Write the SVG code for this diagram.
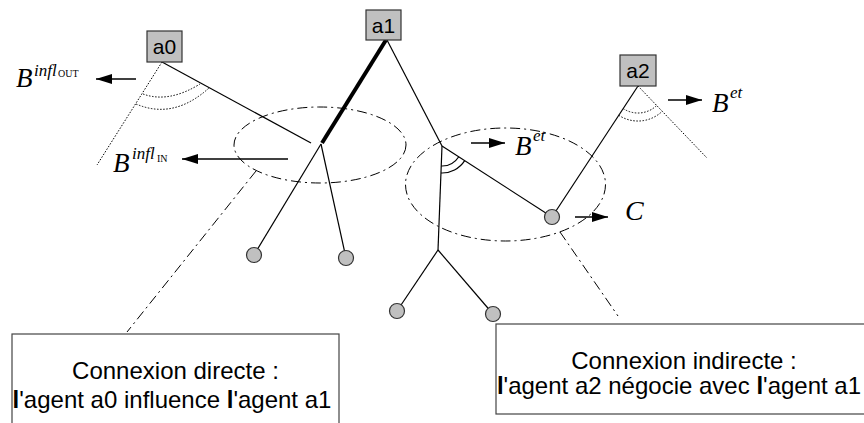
<svg xmlns="http://www.w3.org/2000/svg" width="864" height="423" viewBox="0 0 864 423">
<style>
.ln{stroke:#000;stroke-width:1.2;fill:none}
.dot{stroke:#000;stroke-width:1;fill:none;stroke-dasharray:1.5 1.6}
.dd{stroke:#000;stroke-width:1;fill:none;stroke-dasharray:10 4 2 4}
.ag{fill:#c0c0c0;stroke:#333;stroke-width:1.2}
.agt{font-family:"Liberation Sans",Arial,sans-serif;font-size:21px;text-anchor:middle;fill:#000}
.leaf{fill:#c0c0c0;stroke:#333;stroke-width:1.2}
.arr{stroke:#000;stroke-width:1.3;fill:none;marker-end:url(#ah)}
.math{font-family:"Liberation Serif","Times New Roman",serif;font-style:italic;fill:#000}
.sc{font-family:"Liberation Serif","Times New Roman",serif;font-style:normal;font-size:10px;fill:#000}
.box{fill:#fff;stroke:#444;stroke-width:1.2}
.bt{font-family:"Liberation Sans",Arial,sans-serif;font-size:24px;text-anchor:middle;fill:#000}
</style>
<defs>
<marker id="ah" markerUnits="userSpaceOnUse" markerWidth="16" markerHeight="10" refX="16" refY="5" orient="auto">
<path d="M0,0 L16,5 L0,10 z" fill="#000"/>
</marker>
</defs>
<g id="connectors">
<path class="ln" d="M162,62 L311,143"/>
<path class="dot" d="M162,62 L97,165"/>
<path class="dot" d="M143,94 Q168.5,103.4 200,84"/>
<path class="dot" d="M136,104 Q173.4,120 209,88"/>
<path d="M386,40 L322,143" stroke="#000" stroke-width="4" fill="none"/>
<path class="ln" d="M387,40 L442,146"/>
<path class="ln" d="M442,146 L552,217"/>
<path class="ln" d="M442,146 L438,250"/>
<path class="ln" d="M438,250 L397,311"/>
<path class="ln" d="M438,250 L493,314"/>
<path class="ln" d="M321,144 L254,255"/>
<path class="ln" d="M321,144 L346,258"/>
<path class="ln" d="M638,86 L552,217"/>
<path class="dot" d="M638,86 L707,158"/>
<path class="dot" d="M623.2,108.6 A27,27 0 0 0 656.7,105.5"/>
<path class="dot" d="M618.8,115.3 A35,35 0 0 0 662.2,111.3"/>
<path class="ln" d="M441.2,166 A20,20 0 0 0 458.8,156.8"/>
<path class="ln" d="M441,173 A27,27 0 0 0 464.7,160.6"/>
<ellipse class="dd" cx="320" cy="145" rx="86" ry="38"/>
<ellipse class="dd" cx="505.5" cy="184.5" rx="100" ry="56.5"/>
<path class="dd" d="M256,171 L127,332"/>
<path class="dd" d="M560,232 L618,316"/>
<path class="arr" d="M136,79 L96,79"/>
<path class="arr" d="M288,159 L182,159"/>
<path class="arr" d="M471,143 L505,143"/>
<path class="arr" d="M668,100 L702,100"/>
<path class="arr" d="M575,217 L608,217"/>
</g>
<g id="a0">
<rect class="ag" x="147" y="31" width="35" height="31"/>
<text class="agt" x="164.5" y="54">a0</text>
</g>
<g id="a1">
<rect class="ag" x="366" y="10" width="35" height="30"/>
<text class="agt" x="383.5" y="33">a1</text>
</g>
<g id="a2">
<rect class="ag" x="620" y="55" width="36" height="31"/>
<text class="agt" x="638" y="78">a2</text>
</g>
<g id="leaves">
<circle class="leaf" cx="552" cy="217" r="7.5"/>
<circle class="leaf" cx="254" cy="255" r="7.5"/>
<circle class="leaf" cx="346" cy="258" r="7.5"/>
<circle class="leaf" cx="397" cy="311" r="7.5"/>
<circle class="leaf" cx="493" cy="314" r="7.5"/>
</g>
<g id="labels">
<text class="math" x="16" y="87" font-size="27">B</text>
<text class="math" x="34" y="76" font-size="17">infl</text>
<text class="sc" x="58" y="77">OUT</text>
<text class="math" x="113" y="172" font-size="27">B</text>
<text class="math" x="132" y="159" font-size="17">infl</text>
<text class="sc" x="157" y="162">IN</text>
<text class="math" x="515" y="155" font-size="27">B</text>
<text class="math" x="533" y="141" font-size="17">et</text>
<text class="math" x="712" y="112" font-size="27">B</text>
<text class="math" x="730" y="98" font-size="17">et</text>
<text class="math" x="625" y="220" font-size="28">C</text>
</g>
<g id="box-directe">
<rect class="box" x="12" y="334" width="327" height="110"/>
<text class="bt" x="175.5" y="379">Connexion directe :</text>
<text class="bt" x="172" y="408"><tspan font-weight="bold">l</tspan>'agent a0 influence <tspan font-weight="bold">l</tspan>'agent a1</text>
</g>
<g id="box-indirecte">
<rect class="box" x="496" y="324" width="380" height="90"/>
<text class="bt" x="684" y="369">Connexion indirecte :</text>
<text class="bt" x="679" y="394"><tspan font-weight="bold">l</tspan>'agent a2 négocie avec <tspan font-weight="bold">l</tspan>'agent a1</text>
</g>
</svg>
